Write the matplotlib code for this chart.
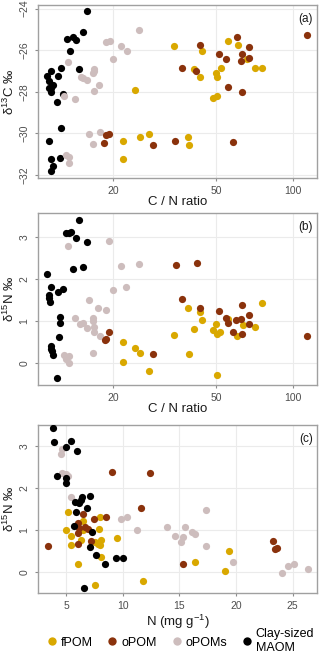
import matplotlib
matplotlib.use("Agg")
import matplotlib.pyplot as plt
from matplotlib.ticker import FixedLocator, NullLocator, FixedFormatter
from matplotlib.lines import Line2D

plt.rcParams['font.family'] = ['Liberation Sans', 'DejaVu Sans']
plt.rcParams['mathtext.fontset'] = 'custom'
plt.rcParams['mathtext.rm'] = 'Liberation Sans'
plt.rcParams['mathtext.it'] = 'Liberation Sans:italic'

groups = ["fPOM", "oPOM", "oPOMs", "Clay-sized\nMAOM"]
colors = {"fPOM": "#D9A800", "oPOM": "#8A320C", "oPOMs": "#CDBDBD", "Clay-sized\nMAOM": "#000000"}

# ---- Panel (a): C/N ratio vs d13C ----
a_fpom_cn = [34.4, 55.9, 60.8, 44.2, 65.9, 41.0, 50.1, 50.5, 52.4, 43.4, 71.0, 75.6, 48.9, 50.5, 24.2, 21.9, 21.9, 25.4, 27.4, 38.9, 39.3]
a_fpom_d13c = [-25.79, -25.57, -25.76, -26.03, -26.45, -26.93, -27.09, -27.31, -26.85, -27.28, -26.85, -26.88, -28.29, -28.21, -27.92, -30.37, -31.23, -30.19, -30.05, -30.16, -30.56]
a_opom_cn = [112.6, 60.3, 43.4, 67.5, 51.5, 63.4, 54.7, 62.6, 67.5, 36.9, 41.9, 55.6, 63.4, 58.1, 18.4, 18.8, 19.3, 28.6, 34.8]
a_opom_d13c = [-25.28, -25.36, -25.73, -25.84, -26.19, -26.21, -26.43, -26.53, -26.40, -26.85, -26.99, -27.76, -28.00, -30.40, -30.45, -30.08, -30.03, -30.56, -30.35]
a_opoms_cn = [25.1, 18.8, 19.4, 21.5, 22.5, 19.9, 13.3, 16.8, 16.9, 16.7, 15.0, 15.3, 15.8, 17.6, 16.9, 12.9, 14.2, 16.1, 17.8, 16.7, 13.1, 13.5, 13.5]
a_opoms_d13c = [-25.04, -25.63, -25.58, -25.79, -26.05, -26.45, -26.59, -26.91, -27.00, -27.12, -27.28, -27.33, -27.44, -27.68, -27.97, -28.19, -28.35, -30.05, -29.92, -30.53, -31.04, -31.15, -31.44]
a_maom_cn = [15.8, 15.3, 13.2, 14.0, 14.3, 13.6, 14.7, 12.5, 11.5, 12.2, 11.1, 11.3, 11.5, 11.3, 11.7, 11.5, 12.7, 12.1, 12.5, 11.3, 12.4, 11.5, 11.7, 11.5]
a_maom_d13c = [-24.13, -25.15, -25.47, -25.36, -25.49, -26.05, -26.91, -26.85, -26.99, -27.23, -27.23, -27.50, -27.80, -27.80, -27.70, -28.00, -28.13, -28.48, -29.73, -30.37, -31.17, -31.25, -31.55, -31.79]

# ---- Panel (b): C/N ratio vs d15N ----
b_fpom_cn = [75.6, 38.9, 43.4, 44.3, 41.1, 34.3, 50.0, 48.9, 50.3, 52.0, 55.9, 60.5, 63.9, 71.0, 21.9, 21.9, 24.2, 25.4, 27.4, 39.3, 50.6]
b_fpom_d15n = [1.44, 1.30, 1.22, 1.03, 0.82, 0.66, 0.92, 0.78, 0.69, 0.74, 1.04, 0.65, 0.91, 0.86, 0.51, 0.03, 0.37, 0.25, -0.18, 0.21, -0.28]
b_opom_cn = [35.0, 42.1, 36.9, 43.4, 51.5, 63.4, 54.7, 55.6, 60.0, 62.8, 67.4, 67.5, 58.3, 63.4, 112.6, 19.2, 18.7, 18.5, 28.6]
b_opom_d15n = [2.34, 2.38, 1.52, 1.30, 1.25, 1.38, 1.07, 0.96, 1.02, 1.04, 1.14, 0.92, 0.73, 0.69, 0.65, 0.74, 0.57, 0.54, 0.21]
b_opoms_cn = [19.2, 13.3, 21.5, 25.1, 19.9, 22.3, 16.1, 17.5, 18.7, 14.2, 16.7, 16.7, 16.9, 14.9, 15.2, 15.8, 16.9, 17.8, 16.7, 12.9, 13.1, 13.5, 13.5]
b_opoms_d15n = [2.90, 2.79, 2.32, 2.36, 1.75, 1.81, 1.49, 1.32, 1.26, 1.08, 1.08, 0.99, 0.86, 0.92, 0.96, 0.84, 0.74, 0.65, 0.25, 0.20, 0.11, 0.16, 0.00]
b_maom_cn = [14.7, 13.1, 13.7, 13.4, 14.3, 15.8, 14.0, 15.3, 11.1, 11.5, 12.7, 12.2, 11.3, 11.3, 11.4, 12.4, 12.4, 12.3, 11.5, 11.5, 11.7, 11.6, 12.1]
b_maom_d15n = [3.41, 3.09, 3.13, 3.10, 2.98, 2.87, 2.24, 2.28, 2.13, 1.82, 1.77, 1.69, 1.63, 1.54, 1.45, 1.10, 0.96, 0.61, 0.41, 0.33, 0.20, 0.28, -0.36]

# ---- Panel (c): N content vs d15N ----
c_fpom_n = [5.18, 5.00, 5.44, 5.47, 6.50, 6.36, 6.03, 7.98, 7.89, 8.04, 7.83, 7.95, 7.54, 8.04, 9.45, 7.54, 11.78, 16.36, 19.01, 19.42, 6.53]
c_fpom_d15n = [1.44, 1.01, 0.86, 0.65, 1.23, 0.77, 0.21, 1.31, 1.03, 0.77, 0.67, 0.65, 0.71, 0.37, 0.81, -0.30, -0.20, 0.25, 0.03, 0.51, 1.00]
c_opom_n = [3.41, 9.07, 12.37, 11.64, 8.54, 7.45, 6.50, 6.06, 6.18, 6.71, 6.92, 7.21, 6.06, 15.35, 23.23, 23.44, 23.61, 6.03]
c_opom_d15n = [0.63, 2.38, 2.35, 1.52, 1.31, 1.26, 1.39, 1.18, 1.05, 1.08, 1.02, 0.75, 0.67, 0.21, 0.74, 0.55, 0.57, 0.93]
c_opoms_n = [4.65, 4.59, 4.65, 5.03, 5.18, 5.47, 9.87, 10.40, 11.28, 13.94, 14.59, 15.35, 15.50, 15.12, 16.15, 16.36, 17.33, 17.33, 19.75, 24.03, 24.56, 25.15, 26.33]
c_opoms_d15n = [2.92, 2.80, 2.35, 2.34, 2.29, 1.80, 1.26, 1.31, 1.01, 1.07, 0.86, 0.85, 1.07, 0.73, 0.97, 0.91, 1.48, 0.63, 0.24, -0.02, 0.16, 0.19, 0.08]
c_maom_n = [3.82, 3.91, 5.03, 5.47, 5.97, 4.20, 5.03, 5.03, 5.77, 6.12, 6.33, 6.42, 7.09, 6.86, 5.91, 5.74, 7.30, 7.09, 7.60, 8.42, 9.37, 10.04, 6.56]
c_maom_d15n = [3.42, 3.10, 2.98, 3.13, 2.88, 2.29, 2.23, 2.13, 1.66, 1.65, 1.72, 1.78, 1.82, 1.54, 1.44, 1.10, 0.97, 0.61, 0.41, 0.20, 0.33, 0.33, -0.36]

cn_ticks = [20, 50, 100]
n_ticks = [5, 10, 15, 20, 25]
d13c_ticks = [-24, -26, -28, -30, -32]
d15n_ticks = [0, 1, 2, 3]

W, H = 320, 658
fig = plt.figure(figsize=(W / 100, H / 100), dpi=100)

def box(l, t, r, b):
    return [l / W, 1 - b / H, (r - l) / W, (b - t) / H]

ax_a = fig.add_axes(box(38, 5, 317, 178))
ax_b = fig.add_axes(box(38, 213, 317, 385))
ax_c = fig.add_axes(box(38, 425, 317, 593))

ms = 27

def style(ax, label):
    for s in ax.spines.values():
        s.set_color('#A0A0A0')
        s.set_linewidth(1.0)
    ax.grid(True, color='#EBEBEB', linewidth=0.8)
    ax.set_axisbelow(True)
    ax.tick_params(axis='both', colors='#8C8C8C', labelcolor='#4D4D4D', labelsize=7.5, length=2.5, width=0.8, pad=3.5)
    for lab in ax.get_yticklabels():
        lab.set_rotation(90)
        lab.set_va('center')
    ax.text(0.985, 0.955, label, transform=ax.transAxes, ha='right', va='top', fontsize=8.5, color='#1A1A1A')

def scatter_sets(ax, sets):
    for g, xs, ys in sets:
        ax.scatter(xs, ys, s=ms, color=colors[g], linewidths=0, zorder=3)

scatter_sets(ax_a, [("Clay-sized\nMAOM", a_maom_cn, a_maom_d13c), ("oPOMs", a_opoms_cn, a_opoms_d13c),
                    ("fPOM", a_fpom_cn, a_fpom_d13c), ("oPOM", a_opom_cn, a_opom_d13c)])
scatter_sets(ax_b, [("Clay-sized\nMAOM", b_maom_cn, b_maom_d15n), ("oPOMs", b_opoms_cn, b_opoms_d15n),
                    ("fPOM", b_fpom_cn, b_fpom_d15n), ("oPOM", b_opom_cn, b_opom_d15n)])
scatter_sets(ax_c, [("oPOMs", c_opoms_n, c_opoms_d15n), ("fPOM", c_fpom_n, c_fpom_d15n),
                    ("oPOM", c_opom_n, c_opom_d15n), ("Clay-sized\nMAOM", c_maom_n, c_maom_d15n)])

for ax in (ax_a, ax_b):
    ax.set_xscale('log')
    ax.set_xlim(10.2, 123.5)
    ax.xaxis.set_major_locator(FixedLocator(cn_ticks))
    ax.xaxis.set_major_formatter(FixedFormatter([str(t) for t in cn_ticks]))
    ax.xaxis.set_minor_locator(NullLocator())
    ax.set_xlabel('C / N ratio', fontsize=9.5, color='#1A1A1A', labelpad=0)

ax_a.set_ylim(-32.15, -23.83)
ax_a.set_yticks(d13c_ticks)
ax_a.set_ylabel('δ$^{13}$C ‰', fontsize=9.5, color='#1A1A1A', labelpad=2)

for ax in (ax_b, ax_c):
    ax.set_yticks(d15n_ticks)
    ax.set_ylabel('δ$^{15}$N ‰', fontsize=9.5, color='#1A1A1A', labelpad=2)
ax_b.set_ylim(-0.52, 3.57)
ax_c.set_ylim(-0.49, 3.5)

ax_c.set_xlim(2.52, 27.15)
ax_c.set_xticks(n_ticks)
ax_c.set_xlabel('N (mg g$^{-1}$)', fontsize=9.5, color='#1A1A1A', labelpad=1)

style(ax_a, '(a)')
style(ax_b, '(b)')
style(ax_c, '(c)')

handles = [Line2D([], [], marker='o', linestyle='none', markersize=6, markerfacecolor=colors[g],
                  markeredgewidth=0, label=g) for g in groups]
fig.legend(handles=handles, loc='center', bbox_to_anchor=(0.56, 1 - 641 / H), ncol=4, frameon=False,
           fontsize=9, handletextpad=0.1, columnspacing=1.0, handlelength=1.2, labelspacing=0.2)

fig.savefig('out.png', dpi=100)
